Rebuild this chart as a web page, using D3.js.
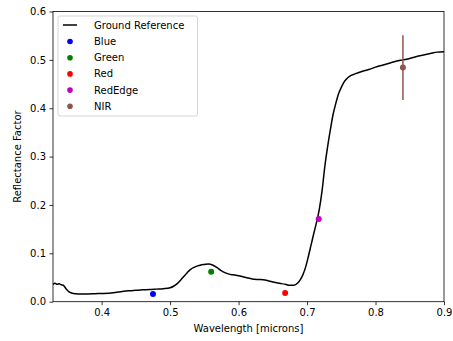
<!DOCTYPE html>
<html><head><meta charset="utf-8">
<script src="https://cdn.jsdelivr.net/npm/d3@7"></script>
<style>body{margin:0;background:#fff}svg{display:block;font-family:"DejaVu Sans",sans-serif}</style>
</head><body><svg id="c" width="453" height="341"></svg>
<script>
const wavelength = [0.329,0.332,0.335,0.338,0.341,0.344,0.348,0.352,0.356,0.362,0.37,0.38,0.39,0.40,0.41,0.42,0.43,0.44,0.45,0.46,0.47,0.48,0.49,0.50,0.505,0.51,0.515,0.52,0.525,0.53,0.535,0.54,0.545,0.55,0.556,0.562,0.568,0.574,0.58,0.586,0.592,0.598,0.605,0.612,0.62,0.628,0.636,0.644,0.652,0.66,0.668,0.675,0.681,0.686,0.69,0.694,0.698,0.702,0.706,0.71,0.714,0.718,0.722,0.726,0.73,0.734,0.738,0.742,0.746,0.75,0.754,0.758,0.762,0.77,0.78,0.79,0.80,0.81,0.82,0.83,0.84,0.85,0.86,0.87,0.88,0.89,0.9];
const reflectance = [0.036,0.038,0.036,0.037,0.035,0.034,0.027,0.021,0.018,0.0165,0.016,0.016,0.0165,0.017,0.0175,0.019,0.021,0.0225,0.0235,0.0245,0.025,0.026,0.027,0.029,0.032,0.037,0.044,0.052,0.060,0.067,0.071,0.074,0.076,0.077,0.078,0.076,0.071,0.065,0.060,0.057,0.0555,0.054,0.052,0.0495,0.047,0.046,0.0455,0.043,0.040,0.038,0.036,0.034,0.034,0.038,0.045,0.056,0.072,0.094,0.118,0.142,0.165,0.192,0.230,0.280,0.320,0.355,0.387,0.410,0.430,0.443,0.454,0.461,0.466,0.471,0.476,0.480,0.485,0.489,0.493,0.497,0.500,0.503,0.507,0.510,0.513,0.516,0.517];
const bandNames = ["Blue","Green","Red","RedEdge","NIR"];
const bandWave = [0.475,0.560,0.668,0.717,0.840];
const bandRefl = [0.016,0.062,0.018,0.171,0.484];
const bandErr = [0,0,0,0,0.067];
const bandColors = ["#0000ff","#008000","#ff0000","#bf00bf","#8c564b"];
const xTicks = [0.4,0.5,0.6,0.7,0.8,0.9];
const yTicks = [0.0,0.1,0.2,0.3,0.4,0.5,0.6];

const svg = d3.select("#c");
const L=53, R=444, T=11.5, B=301.7;
const x = d3.scaleLinear().domain([0.329,0.9]).range([L,R]);
const y = d3.scaleLinear().domain([0,0.6]).range([B,T]);

const line = d3.line().x((d,i)=>x(wavelength[i])).y(d=>y(d)).curve(d3.curveMonotoneX);
svg.append("path").datum(reflectance).attr("d",line).attr("fill","none").attr("stroke","#000").attr("stroke-width",1.5);

// error bars
bandWave.forEach((w,i)=>{
  if(bandErr[i]>0){
    svg.append("line").attr("x1",x(w)).attr("x2",x(w)).attr("y1",y(bandRefl[i]-bandErr[i])).attr("y2",y(bandRefl[i]+bandErr[i])).attr("stroke",bandColors[i]).attr("stroke-width",1.5);
  }
});
svg.selectAll("circle.pt").data(bandWave).enter().append("circle").attr("class","pt")
  .attr("cx",d=>x(d)).attr("cy",(d,i)=>y(bandRefl[i])).attr("r",3).attr("fill",(d,i)=>bandColors[i]);

const xa = svg.append("g").attr("transform",`translate(0,${B})`).call(d3.axisBottom(x).tickValues(xTicks).tickFormat(d3.format(".1f")).tickSize(3.5).tickPadding(3.5));
const ya = svg.append("g").attr("transform",`translate(${L},0)`).call(d3.axisLeft(y).tickValues(yTicks).tickFormat(d3.format(".1f")).tickSize(3.5).tickPadding(3.5));
[xa,ya].forEach(a=>{a.select(".domain").remove();a.selectAll("text").attr("font-size",10).attr("font-family","DejaVu Sans").attr("fill","#000");a.selectAll("line").attr("stroke","#000").attr("stroke-width",0.8);});

svg.append("rect").attr("x",L).attr("y",T).attr("width",R-L).attr("height",B-T).attr("fill","none").attr("stroke","#000").attr("stroke-width",0.8);

svg.append("text").attr("x",(L+R)/2).attr("y",332).attr("text-anchor","middle").attr("font-size",10).text("Wavelength [microns]");
svg.append("text").attr("transform",`translate(21,${(T+B)/2}) rotate(-90)`).attr("text-anchor","middle").attr("font-size",10).text("Reflectance Factor");

// legend
const lg = svg.append("g");
lg.append("rect").attr("x",58).attr("y",16).attr("width",139.5).attr("height",100).attr("rx",2).attr("fill","#fff").attr("fill-opacity",0.8).attr("stroke","#cccccc").attr("stroke-width",0.8);
lg.append("line").attr("x1",63).attr("x2",77).attr("y1",25).attr("y2",25).attr("stroke","#000").attr("stroke-width",1.5);
lg.append("text").attr("x",94).attr("y",28.5).attr("font-size",10).text("Ground Reference");
bandNames.forEach((n,i)=>{
  const yy = 41.5 + i*16.2;
  lg.append("circle").attr("cx",70).attr("cy",yy).attr("r",2.8).attr("fill",bandColors[i]);
  lg.append("text").attr("x",94).attr("y",yy+3.5).attr("font-size",10).text(n);
});
</script></body></html>
